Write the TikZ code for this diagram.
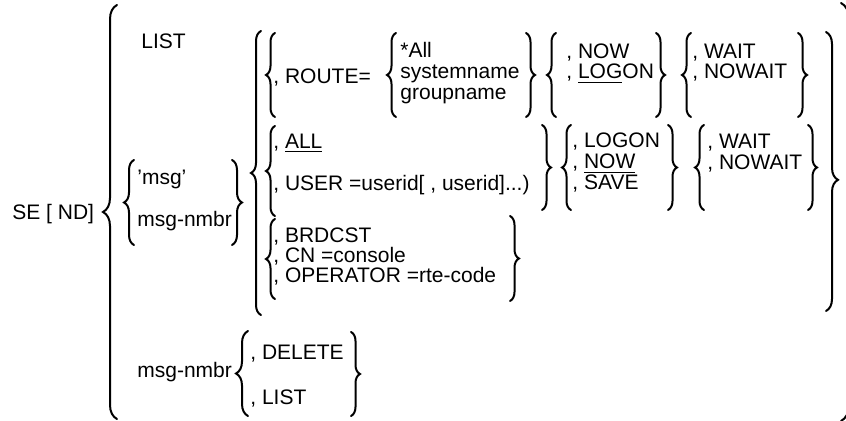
\documentclass[tikz,border=0pt]{standalone}
\usepackage{fontspec}
\setmainfont{Liberation Sans}
\usetikzlibrary{decorations.pathreplacing,positioning}

\begin{document}
\begin{tikzpicture}[
  x=0.5pt, y=-0.5pt,
  word/.style={anchor=base west, inner sep=0pt, font=\fontsize{10.5}{12}\selectfont},
  nextline/.style={word, yshift=-10.5pt},
  curly/.style={decorate, decoration={brace, amplitude=4.5pt}, line width=1pt, line cap=round}
]
\useasboundingbox (0,0) rectangle (846,421);

% Command and first level choices
\node[word] (se) at (12,220) {SE [ ND]};
\node[word] (list) at (141,49) {LIST};
\node[word] (msg) at (137,185) {’msg’};
\node[word] (nmbr) at (137,227) {msg-nmbr};
\node[word] (nmbr2) at (137,378) {msg-nmbr};

% Row 1: ROUTE
\node[word] (route) at (273,84) {, ROUTE=};
\node[word] (star) at (400,58) {*All};
\node[nextline] (sysname) at (star.base west) {systemname};
\node[nextline] (grpname) at (sysname.base west) {groupname};
\node[word] (now1) at (566,59) {, NOW};
\node[word, yshift=-10pt] (logon1) at (now1.base west) {, \underline{LOG}ON};
\node[word] (wait1) at (692,59) {, WAIT};
\node[word, yshift=-10pt] (nowait1) at (wait1.base west) {, NOWAIT};

% Row 2: ALL / USER
\node[word] (all) at (273,149) {, \underline{ALL}};
\node[word] (user) at (273,191) {, USER =userid[ , userid]...)};
\node[word] (logon2) at (572,148) {, LOGON};
\node[nextline] (now2) at (logon2.base west) {, \underline{NOW}};
\node[nextline] (save2) at (now2.base west) {, SAVE};
\node[word] (wait2) at (707,149) {, WAIT};
\node[nextline] (nowait2) at (wait2.base west) {, NOWAIT};

% Row 3: BRDCST
\node[word] (brdcst) at (273,243) {, BRDCST};
\node[word, yshift=-10pt] (cn) at (brdcst.base west) {, CN =console};
\node[word, yshift=-10pt] (oper) at (cn.base west) {, OPERATOR =rte-code};

% Row 4: DELETE / LIST
\node[word] (delete) at (250,360) {, DELETE};
\node[word] (list2) at (250,405) {, LIST};

% Outer braces
\draw[curly, decoration={amplitude=7pt}] (117,419) -- (117,5);
\draw[curly, decoration={amplitude=8pt}] (841,3) -- (841,421);

% 'msg' choice
\draw[curly, decoration={amplitude=5pt}] (134,245) -- (134,160);
\draw[curly, decoration={amplitude=5pt}] (232,160) -- (232,245);

% Option group
\draw[curly, decoration={amplitude=5pt}] (261,315) -- (261,31);
\draw[curly, decoration={amplitude=6pt, aspect=0.53}] (826,32) -- (826,311);

% Row 1 braces
\draw[curly] (275,117) -- (275,33);
\draw[curly] (396,117) -- (396,33);
\draw[curly] (526,33) -- (526,117);
\draw[curly] (556,117) -- (556,33);
\draw[curly] (656,33) -- (656,117);
\draw[curly] (691,117) -- (691,33);
\draw[curly] (798,33) -- (798,117);

% Row 2 braces
\draw[curly] (275,216) -- (275,126);
\draw[curly] (542,125) -- (542,210);
\draw[curly] (571,210) -- (571,125);
\draw[curly] (668,125) -- (668,210);
\draw[curly] (704,210) -- (704,125);
\draw[curly] (808,125) -- (808,210);

% Row 3 braces
\draw[curly] (275,299) -- (275,219);
\draw[curly] (510,216) -- (510,301);

% Row 4 braces
\draw[curly, decoration={amplitude=6pt}] (248,416) -- (248,331);
\draw[curly] (351,332) -- (351,416);

\end{tikzpicture}
\end{document}
